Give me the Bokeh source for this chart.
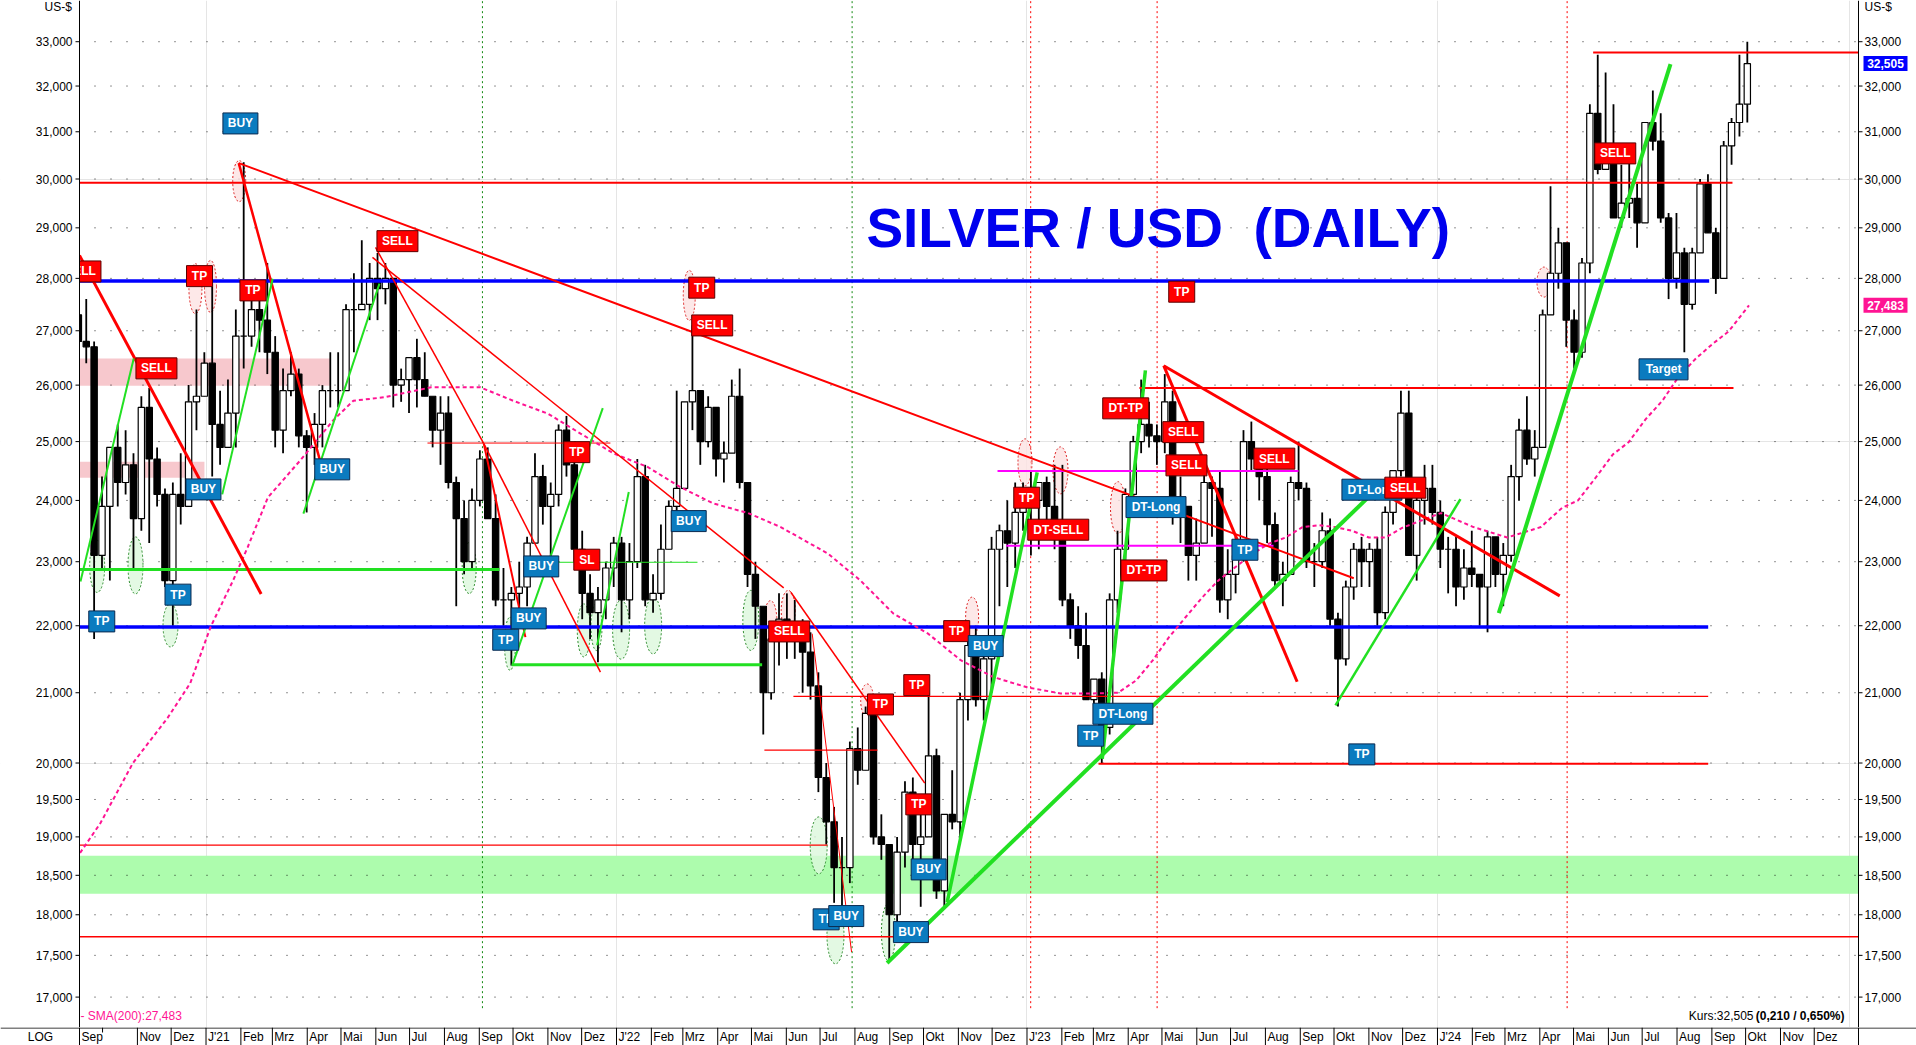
import pandas as pd
from bokeh.plotting import figure
from bokeh.layouts import column
from bokeh.models import Range1d, Label, LogScale
from bokeh.core.properties import value
from bokeh.embed import file_html
from bokeh.resources import INLINE

# ------------------------------------------------------------------ data
# weekly bars (US-$), first Monday of each year block
YEAR_FIRST_MONDAY = ["2020-09-07", "2021-01-04", "2022-01-03", "2023-01-02", "2024-01-01"]
FIRST_OPEN = 27.3

HIGH_2020 = [27.9, 27.6, 26.8, 24.4, 24.9, 25.3, 25.2, 24.8, 25.8, 25.95, 24.9, 24.2, 24.3, 24.8, 26.0, 27.4, 26.6]
LOW_2020 = [26.6, 26.4, 21.8, 22.9, 22.7, 23.9, 24.1, 22.9, 23.5, 23.3, 23.9, 22.6, 22.0, 23.6, 23.9, 25.2, 25.8]
CLOSE_2020 = [26.8, 26.7, 23.1, 23.9, 24.9, 24.3, 24.6, 23.7, 25.6, 24.7, 24.1, 22.7, 24.1, 23.9, 25.7, 25.8, 26.4]

HIGH_2021 = [27.9, 25.9, 26.1, 27.4, 30.35, 27.8, 27.9, 28.3, 26.9, 26.3, 26.6, 26.3, 25.2, 25.5, 26.0, 26.6, 26.6,
             27.5, 28.1, 28.75, 28.3, 28.5, 28.3, 28.0, 26.3, 26.5, 26.85, 26.6, 25.7, 25.8, 25.8, 24.4, 24.0, 24.2,
             24.85, 24.9, 24.1, 22.9, 22.6, 23.0, 23.4, 24.8, 24.6, 24.3, 25.3, 25.45, 24.9, 23.5, 22.8, 22.6, 23.0, 23.4]
LOW_2021 = [24.4, 24.6, 24.9, 24.9, 26.3, 26.7, 26.6, 26.2, 24.9, 24.8, 25.8, 24.9, 23.8, 24.6, 24.9, 25.6, 25.6,
            25.9, 26.6, 27.4, 27.2, 27.2, 27.5, 25.6, 25.7, 25.5, 25.6, 25.8, 24.9, 24.6, 24.2, 22.3, 22.8, 22.9,
            23.9, 23.7, 22.3, 22.0, 21.4, 22.2, 22.3, 23.3, 23.6, 23.0, 23.9, 24.4, 23.0, 22.1, 21.8, 21.45, 22.1, 22.6]
CLOSE_2021 = [25.3, 24.9, 25.5, 26.9, 26.9, 27.4, 27.2, 26.6, 25.2, 25.9, 26.2, 25.1, 24.9, 25.3, 25.9, 25.9, 25.9,
              27.4, 27.4, 27.5, 28.0, 27.8, 28.0, 26.0, 26.1, 26.5, 26.1, 25.8, 25.2, 25.5, 24.3, 23.7, 23.0, 24.0,
              24.7, 23.7, 22.4, 22.4, 22.5, 22.6, 23.3, 24.4, 23.9, 24.1, 25.2, 24.6, 23.2, 22.5, 22.2, 22.4, 22.9, 23.3]

HIGH_2022 = [23.4, 23.3, 24.7, 24.6, 22.8, 23.6, 24.0, 25.9, 25.6, 27.1, 25.8, 25.8, 25.6, 25.0, 26.1, 26.3, 24.2,
             23.0, 22.1, 22.0, 22.5, 22.5, 22.4, 22.1, 21.9, 21.3, 20.0, 19.4, 19.0, 20.3, 20.5, 20.8, 20.8, 19.3,
             18.9, 19.0, 19.75, 19.8, 19.3, 21.0, 20.2, 19.0, 19.9, 21.0, 21.9, 22.0, 21.7, 23.4, 23.6, 24.0, 24.3, 24.3]
LOW_2022 = [21.9, 22.1, 22.9, 22.3, 22.2, 22.4, 23.2, 23.6, 24.3, 25.2, 24.6, 24.9, 24.4, 24.3, 25.0, 24.2, 22.6,
            21.8, 20.4, 20.9, 21.4, 21.5, 21.5, 21.0, 20.9, 19.6, 18.9, 18.15, 18.0, 18.4, 19.7, 19.9, 18.9, 18.7,
            17.45, 17.8, 18.6, 18.7, 18.1, 19.0, 18.2, 18.1, 19.1, 18.9, 20.6, 20.8, 20.6, 21.0, 22.3, 22.6, 22.9, 23.5]
CLOSE_2022 = [22.4, 23.0, 24.4, 22.4, 22.5, 23.2, 23.9, 24.2, 25.7, 25.9, 25.0, 25.6, 24.7, 24.8, 25.8, 24.3, 22.8,
              22.3, 21.0, 21.8, 22.1, 21.9, 21.8, 21.6, 21.1, 19.8, 19.2, 18.6, 18.6, 20.2, 19.9, 20.7, 19.0, 18.9,
              18.0, 18.8, 19.6, 18.9, 19.0, 20.1, 18.3, 19.3, 19.2, 20.9, 21.7, 20.9, 21.5, 23.2, 23.5, 23.3, 23.8, 24.0]

HIGH_2023 = [24.5, 24.3, 24.4, 24.6, 24.6, 22.5, 22.3, 22.2, 21.2, 21.3, 22.5, 23.5, 24.2, 25.1, 26.1, 25.7, 25.3,
             26.2, 25.9, 24.4, 23.9, 23.7, 24.5, 24.4, 24.5, 23.2, 23.4, 25.2, 25.35, 24.8, 24.8, 23.8, 23.0, 24.4,
             25.0, 24.3, 23.3, 23.8, 23.7, 22.2, 22.7, 23.3, 23.4, 23.3, 23.4, 23.9, 24.5, 25.9, 25.9, 24.3, 24.6, 24.6]
LOW_2023 = [23.1, 23.2, 23.5, 23.2, 22.3, 21.8, 21.5, 20.9, 20.6, 20.0, 20.4, 22.2, 22.9, 23.9, 24.8, 24.9, 24.6,
            24.8, 23.6, 23.3, 22.7, 22.7, 23.3, 23.4, 22.2, 22.1, 22.5, 23.0, 24.5, 24.0, 23.3, 22.6, 22.3, 22.8,
            24.0, 22.9, 22.6, 22.9, 22.0, 20.8, 21.4, 22.4, 22.6, 22.6, 22.0, 22.1, 23.6, 24.4, 23.1, 22.7, 23.6, 23.6]
CLOSE_2023 = [24.0, 24.3, 23.9, 23.6, 22.4, 22.0, 21.7, 20.9, 21.2, 20.5, 22.4, 23.2, 24.1, 25.0, 25.3, 25.1, 25.0,
              25.7, 23.8, 23.9, 23.1, 23.3, 24.3, 24.2, 22.4, 22.8, 23.1, 25.0, 24.7, 24.4, 23.6, 22.7, 22.8, 24.3,
              24.2, 23.0, 23.0, 23.5, 22.1, 21.5, 22.6, 23.2, 23.0, 23.2, 22.2, 23.8, 24.5, 25.5, 23.1, 24.0, 24.2, 23.8]

HIGH_2024 = [24.0, 23.4, 23.4, 23.2, 23.5, 22.8, 23.5, 23.3, 23.3, 24.6, 25.4, 25.8, 25.2, 27.4, 29.85, 29.0, 28.6,
             27.4, 28.4, 31.6, 32.7, 32.3, 31.6, 30.3, 30.4, 29.9, 31.2, 31.9, 31.4, 29.3, 29.3, 28.6, 28.6, 30.0,
             30.1, 29.0, 30.8, 31.3, 32.7, 33.0]
LOW_2024 = [22.9, 22.5, 22.3, 22.4, 22.6, 22.0, 21.9, 22.6, 22.3, 23.0, 24.0, 24.6, 24.4, 25.0, 27.3, 27.8, 26.7,
            26.3, 26.5, 28.1, 30.1, 30.2, 29.2, 29.0, 29.2, 28.6, 29.2, 30.6, 29.1, 27.6, 27.8, 26.6, 27.4, 28.5,
            28.9, 27.7, 28.0, 30.3, 30.9, 31.2]
CLOSE_2024 = [23.2, 23.2, 22.6, 22.9, 22.8, 22.6, 23.4, 22.8, 23.1, 24.4, 25.2, 24.7, 24.9, 27.3, 28.1, 28.7, 27.2,
              26.6, 28.3, 31.4, 30.2, 30.4, 29.2, 29.5, 29.6, 29.1, 31.2, 30.8, 29.2, 28.0, 28.5, 27.5, 28.5, 29.9,
              28.9, 28.0, 30.7, 31.2, 31.6, 32.5]

HIGHS = [HIGH_2020, HIGH_2021, HIGH_2022, HIGH_2023, HIGH_2024]
LOWS = [LOW_2020, LOW_2021, LOW_2022, LOW_2023, LOW_2024]
CLOSES = [CLOSE_2020, CLOSE_2021, CLOSE_2022, CLOSE_2023, CLOSE_2024]

# 200-day moving average
SMA_DATES = ["2020-09-11", "2020-09-29", "2020-10-28", "2020-11-28", "2020-12-18", "2021-01-05", "2021-01-25",
             "2021-02-07", "2021-02-25", "2021-03-26", "2021-04-24", "2021-05-12", "2021-06-08", "2021-07-20",
             "2021-09-02", "2021-10-01", "2021-11-01", "2021-11-30", "2021-12-29", "2022-01-29", "2022-02-27",
             "2022-03-28", "2022-04-28", "2022-05-27", "2022-07-08", "2022-08-06", "2022-09-04", "2022-10-05",
             "2022-11-03", "2022-12-02", "2023-01-01", "2023-01-31", "2023-03-01", "2023-03-23", "2023-04-08",
             "2023-04-23", "2023-05-07", "2023-05-22", "2023-06-06", "2023-06-20", "2023-07-05", "2023-07-21",
             "2023-08-04", "2023-08-19", "2023-09-03", "2023-09-17", "2023-10-02", "2023-10-17", "2023-11-01",
             "2023-11-16", "2023-12-01", "2024-01-04", "2024-02-02", "2024-03-03", "2024-04-02", "2024-04-21",
             "2024-05-05", "2024-05-21", "2024-06-05", "2024-06-19", "2024-07-04", "2024-07-19", "2024-08-02",
             "2024-08-18", "2024-09-02", "2024-09-16", "2024-10-04"]
SMA_VALUES = [18.79, 19.18, 20.00, 20.64, 21.14, 21.98, 22.70, 23.23, 24.05, 24.68, 25.37, 25.72, 25.78, 25.96,
              25.96, 25.72, 25.49, 25.14, 24.80, 24.56, 24.22, 23.95, 23.79, 23.56, 23.13, 22.70, 22.19, 21.88,
              21.48, 21.23, 21.08, 20.99, 20.99, 21.00, 21.18, 21.48, 21.82, 22.13, 22.44, 22.70, 22.91, 23.13,
              23.29, 23.39, 23.56, 23.59, 23.56, 23.50, 23.39, 23.39, 23.55, 23.79, 23.56, 23.39, 23.56, 23.88,
              24.00, 24.39, 24.78, 24.99, 25.39, 25.72, 26.14, 26.49, 26.76, 26.99, 27.48]

# horizontal support / resistance levels
LEVEL_PRICE = [29.92, 27.95, 21.98, 18.893, 17.728, 32.755, 25.95, 20.946, 19.99, 20.18, 24.975,
               22.876, 21.411, 22.991, 24.494, 23.256]
LEVEL_FROM = ["2020-09-01", "2020-09-01", "2020-09-01", "2020-09-01", "2020-09-01", "2024-05-18 10:00",
              "2023-04-11", "2022-06-07 07:00", "2023-03-05 14:00", "2022-05-12 12:00", "2021-07-16 22:00",
              "2020-09-01", "2021-09-30 05:00", "2021-11-10 10:00", "2022-12-05 19:00", "2022-12-13 12:00"]
LEVEL_TO = ["2024-09-19 07:00", "2024-08-29 14:00", "2024-08-28 17:00", "2022-07-07 14:00", "2025-02-01",
            "2025-02-01", "2024-09-20 05:00", "2024-08-28 17:00", "2024-08-28 17:00", "2022-08-21",
            "2021-12-26 14:00", "2021-09-18 22:00", "2022-05-10 12:00", "2022-03-14", "2023-08-30 10:00",
            "2023-08-08 05:00"]
LEVEL_KIND = ["red", "blue", "blue", "red", "red", "red", "red", "red", "red", "red", "red",
              "green", "green", "green", "magenta", "magenta"]

# shaded zones
ZONE_BOTTOM = [18.266, 25.988, 24.381]
ZONE_TOP = [18.754, 26.485, 24.654]
ZONE_FROM = ["2020-09-01", "2020-09-01", "2020-09-01"]
ZONE_TO = ["2025-02-01", "2021-04-21 14:00", "2020-12-30 14:00"]
ZONE_KIND = ["green", "pink", "pink"]

# trend lines
TREND_X0 = ["2021-01-30 02:00", "2021-01-30 02:00", "2020-09-10 12:00", "2021-05-31 17:00", "2021-09-05",
            "2021-09-05", "2021-05-29", "2022-06-05", "2022-06-24", "2023-05-02 14:00", "2023-05-02 14:00",
            "2020-09-11 09:00", "2021-01-15 10:00", "2021-03-28 14:00", "2021-09-30 05:00", "2021-12-14 19:00",
            "2022-08-29 14:00", "2022-10-22", "2023-03-08 22:00", "2023-10-02 07:00", "2024-02-24 12:00"]
TREND_Y0 = [30.333, 30.333, 28.45, 28.608, 24.964, 24.964, 28.41, 22.518, 21.879, 26.353, 26.353,
            22.686, 24.101, 23.78, 21.40, 21.703, 17.407, 18.155, 20.06, 20.816, 22.192]
TREND_X1 = ["2023-10-18 14:00", "2021-04-12 19:00", "2021-02-19", "2021-09-05", "2021-12-17 17:00",
            "2021-10-12", "2022-05-29 17:00", "2022-10-02 02:00", "2022-07-29", "2023-08-29 05:00",
            "2024-04-18 17:00", "2020-10-28 17:00", "2021-03-01 07:00", "2021-06-04 05:00", "2021-12-19 19:00",
            "2022-01-11 22:00", "2023-11-14 05:00", "2023-01-10 02:00", "2023-04-16 07:00", "2024-01-21 10:00",
            "2024-07-26 05:00"]
TREND_Y1 = [22.738, 24.641, 22.49, 24.964, 21.303, 21.827, 22.585, 19.722, 17.54, 21.161, 22.461,
            26.486, 27.994, 27.898, 25.589, 24.14, 24.303, 24.472, 26.267, 24.022, 32.49]
TREND_KIND = ["red"] * 11 + ["green"] * 10

# vertical marker dates
VLINE_DATES = ["2021-09-03 19:00", "2022-07-29 12:00", "2023-01-04 07:00", "2023-04-26 17:00", "2024-04-25 07:00"]
VLINE_KIND = ["green", "green", "red", "red", "red"]

# circled highs (red) and lows (green)
OVAL_DATES = ["2021-01-30 12:00", "2020-12-22 14:00", "2021-01-05", "2022-03-06 17:00", "2022-05-17 22:00",
              "2022-06-02 17:00", "2022-08-11 22:00", "2022-11-13 05:00", "2022-12-30 05:00", "2023-01-30 19:00",
              "2023-03-22 22:00", "2024-04-04 17:00",
              "2020-09-26 05:00", "2020-10-30 07:00", "2020-11-30 10:00", "2021-08-23", "2021-09-28 07:00",
              "2021-12-02 22:00", "2021-12-14 05:00", "2022-01-05 02:00", "2022-02-02 14:00", "2022-04-30 10:00",
              "2022-06-29 19:00", "2022-07-14 17:00", "2022-08-30 19:00"]
OVAL_PRICES = [29.956, 27.80, 27.844, 27.671, 22.055, 22.235, 20.888, 22.132, 24.643, 24.506, 23.879, 27.928,
               22.925, 22.941, 22.005, 22.899, 21.727, 21.929, 21.98, 21.94, 22.006, 22.082, 18.888, 17.745, 17.785]
OVAL_KIND = ["red"] * 12 + ["green"] * 13

# signal tags
TAG_DATES = ["2020-09-11 08:40", "2020-12-26 05:00", "2021-02-11 17:00", "2020-11-17 22:00", "2021-01-31 14:00",
             "2020-12-29 17:00", "2021-04-23 05:00", "2020-12-07 02:00", "2020-09-30 07:00", "2021-06-20 05:00",
             "2022-03-17 19:00", "2022-03-27 02:00", "2021-11-26 17:00", "2021-12-05 14:00", "2021-10-26 02:00",
             "2021-10-14 22:00", "2021-09-24 12:00", "2022-03-06 05:00", "2022-06-03 14:00", "2022-08-23 17:00",
             "2022-09-25", "2022-09-26 19:00", "2022-10-30 12:00", "2022-11-25 07:00", "2022-10-05 14:00",
             "2022-09-19 19:00", "2022-07-06 10:00", "2022-07-24 07:00", "2022-12-31 19:00", "2023-01-28 19:00",
             "2023-03-29 19:00", "2023-04-25 17:00", "2023-04-15", "2023-03-27 07:00", "2023-02-26 17:00",
             "2023-05-18 14:00", "2023-05-20", "2023-05-22 19:00", "2023-08-08 22:00", "2023-07-13 19:00",
             "2023-11-03 17:00", "2023-12-03 10:00", "2023-10-25 17:00", "2024-06-07 02:00", "2024-07-20"]
TAG_PRICES = [28.135, 28.044, 27.767, 26.304, 31.18, 24.184, 24.523, 22.48, 22.066, 28.733, 27.82, 27.1, 24.818,
              23.032, 22.925, 22.112, 21.787, 23.658, 21.913, 20.83, 21.111, 19.434, 21.918, 21.692, 18.576,
              17.785, 17.943, 17.984, 24.045, 23.517, 25.584, 23.889, 22.861, 20.696, 20.383, 27.742, 25.165,
              24.591, 24.706, 23.192, 24.179, 24.213, 20.12, 30.538, 26.286]
TAG_TEXT = ["SELL", "TP", "TP", "SELL", "BUY", "BUY", "BUY", "TP", "TP", "SELL", "TP", "SELL", "TP", "SL", "BUY",
            "BUY", "TP", "BUY", "SELL", "TP", "TP", "TP", "TP", "BUY", "BUY", "BUY", "TP", "BUY", "TP", "DT-SELL",
            "DT-TP", "DT-Long", "DT-TP", "DT-Long", "TP", "TP", "SELL", "SELL", "SELL", "TP", "DT-Long", "SELL",
            "TP", "SELL", "Target"]
TAG_KIND = ["red", "red", "red", "red", "blue", "blue", "blue", "blue", "blue", "red", "red", "red", "red", "red",
            "blue", "blue", "blue", "blue", "red", "red", "red", "red", "red", "blue", "blue", "blue", "blue", "blue",
            "red", "red", "red", "blue", "red", "blue", "blue", "red", "red", "red", "red", "blue", "blue", "red",
            "blue", "red", "blue"]

TITLE_TEXT = "SILVER / USD\u00a0\u00a0(DAILY)"
TITLE_DATE = "2022-08-11 05:00"
TITLE_PRICE = 29.0

LAST_PRICE = 32.505
LAST_SMA = 27.483
CHANGE_TEXT = "(0,210 / 0,650%)"
Y_TICKS = [17, 17.5, 18, 18.5, 19, 19.5, 20, 21, 22, 23, 24, 25, 26, 27, 28, 29, 30, 31, 32, 33]
MONTH_NAMES = ["J", "Feb", "Mrz", "Apr", "Mai", "Jun", "Jul", "Aug", "Sep", "Okt", "Nov", "Dez"]

# ------------------------------------------------------------------ style
COL = {"red": "#ff0000", "blue": "#0000ff", "green": "#22e022", "magenta": "#ff00ff"}
LEVEL_WIDTH = [2, 3.5, 3.5, 1.2, 1.5, 2, 2, 1.2, 2, 1.2, 1, 3, 3, 1, 2, 2]
TREND_WIDTH = [2, 2.5, 3, 1.5, 1.5, 2, 1.5, 1.5, 1, 3, 3, 2, 2, 2, 2, 2, 4, 3.5, 3.5, 2.5, 4]
OVAL_W = [13, 13, 12, 12, 13, 14, 13, 13, 14, 15, 15, 14, 15, 15, 15, 14, 11, 13, 11, 17, 17, 16, 17, 17, 14]
OVAL_H = [41, 50, 52, 50, 43, 40, 33, 40, 47, 47, 52, 30, 52, 57, 43, 51, 53, 53, 47, 59, 57, 60, 57, 57, 57]
ZONE_COL = {"green": "#adfcad", "pink": "#f7c8cd"}
VLINE_COL = {"green": "#138a13", "red": "#ff0000"}
TAG_FILL = {"red": "#ff0000", "blue": "#0b7bbf"}
TAG_LINE = {"red": "#5a0000", "blue": "#0a2a50"}
TAG_W = {"TP": 26, "SL": 26, "BUY": 35, "SELL": 41, "DT-TP": 46, "DT-SELL": 61, "DT-Long": 60, "Target": 49}
FONT = "Liberation Sans"

# layout: 1.12462 px per calendar day, plot area from x=79 to x=1858
PPD = 1.12462


def px(n):
    return pd.Timedelta(days=n / PPD)


def T(v):
    return pd.to_datetime(v, format="mixed")


X_START = pd.Timestamp("2020-09-10 12:00")
X_END = X_START + px(1779)
XR0 = X_START - px(79)
XR1 = XR0 + px(1916)
Y_BOTTOM, Y_TOP = 16.645, 33.958
W, H, STRIP_H = 1916, 1027, 18

# ------------------------------------------------------------------ main figure
p = figure(x_axis_type="datetime", y_axis_type="log",
           x_range=Range1d(XR0, XR1), y_range=Range1d(Y_BOTTOM, Y_TOP),
           frame_width=W, frame_height=H, min_border=0,
           x_axis_location=None, y_axis_location=None, toolbar_location=None, output_backend="svg")
p.y_scale = LogScale()
p.outline_line_color = None
p.background_fill_color = "white"
p.border_fill_color = "white"

# zones
p.quad(left=T(ZONE_FROM), right=T(ZONE_TO), bottom=ZONE_BOTTOM, top=ZONE_TOP,
       fill_color=[ZONE_COL[k] for k in ZONE_KIND], line_color=None)

# dotted grid rows
p.segment(x0=[X_START] * len(Y_TICKS), y0=Y_TICKS, x1=[X_END] * len(Y_TICKS), y1=Y_TICKS,
          line_color="#000000", line_alpha=0.85, line_width=1, line_dash="1 15", line_dash_offset=1)

# vertical markers
p.segment(x0=T(VLINE_DATES), y0=[16.87] * len(VLINE_DATES), x1=T(VLINE_DATES), y1=[Y_TOP + 1] * len(VLINE_DATES),
          line_color=[VLINE_COL[k] for k in VLINE_KIND], line_width=1, line_dash="2 3")

# ovals
p.ellipse(x=T(OVAL_DATES), y=OVAL_PRICES, width=OVAL_W, height=OVAL_H,
          width_units="screen", height_units="screen",
          fill_color=["#fde2e2" if k == "red" else "#dcf7dc" for k in OVAL_KIND], fill_alpha=0.8,
          line_color=["#dd2222" if k == "red" else "#2a8a2a" for k in OVAL_KIND], line_width=1, line_dash="2 2")

# weekly bars
dates, highs, lows, closes = [], [], [], []
for first, h, l, c in zip(YEAR_FIRST_MONDAY, HIGHS, LOWS, CLOSES):
    assert len(h) == len(l) == len(c)
    dates += list(pd.date_range(first, periods=len(h), freq="7D"))
    highs += h
    lows += l
    closes += c
opens = [FIRST_OPEN] + closes[:-1]
mids = [d + pd.Timedelta(hours=60) for d in dates]
p.segment(x0=mids, y0=lows, x1=mids, y1=highs, line_color="black", line_width=1.8)
p.vbar(x=mids, width=5.6 * 86400000,
       bottom=[min(o, c) for o, c in zip(opens, closes)], top=[max(o, c) for o, c in zip(opens, closes)],
       fill_color=["white" if c >= o else "black" for o, c in zip(opens, closes)], line_color="black",
       line_width=1.2)

# levels
p.segment(x0=T(LEVEL_FROM), y0=LEVEL_PRICE, x1=T(LEVEL_TO), y1=LEVEL_PRICE,
          line_color=[COL[k] for k in LEVEL_KIND], line_width=LEVEL_WIDTH)

# SMA 200
p.line(x=T(SMA_DATES), y=SMA_VALUES, line_color="#ff1493", line_width=2, line_dash="4 3")

# trend lines
p.segment(x0=T(TREND_X0), y0=TREND_Y0, x1=T(TREND_X1), y1=TREND_Y1,
          line_color=[COL[k] for k in TREND_KIND], line_width=TREND_WIDTH)

# title
p.text(x=[T(TITLE_DATE)], y=[TITLE_PRICE], text=[TITLE_TEXT], text_align="left", text_baseline="middle",
       text_font=value(FONT), text_font_style="bold", text_font_size="55px", text_color="#0000ee")

# tags
for d, pr, tx, k in zip(TAG_DATES, TAG_PRICES, TAG_TEXT, TAG_KIND):
    p.rect(x=[T(d)], y=[pr], width=TAG_W[tx], height=21, width_units="screen", height_units="screen",
           fill_color=TAG_FILL[k], line_color=TAG_LINE[k], line_width=1)
    p.text(x=[T(d)], y=[pr], text=[tx], text_align="center", text_baseline="middle",
           text_font=value(FONT), text_font_style="bold", text_font_size="12px", text_color="white")

# mask the axis margins (the plot area ends at the two axis lines)
p.quad(left=[XR0 - px(20), X_END], right=[X_START, XR1 + px(20)], bottom=[16.0, 16.0], top=[35.0, 35.0],
       fill_color="white", line_color=None)

# axis lines, ticks and tick labels
p.segment(x0=[X_START, X_END], y0=[Y_BOTTOM, Y_BOTTOM], x1=[X_START, X_END], y1=[Y_TOP, Y_TOP],
          line_color="black", line_width=1)
n = len(Y_TICKS)
p.segment(x0=[X_START - px(4)] * n, y0=Y_TICKS, x1=[X_START] * n, y1=Y_TICKS, line_color="black", line_width=1)
p.segment(x0=[X_END] * n, y0=Y_TICKS, x1=[X_END + px(4)] * n, y1=Y_TICKS, line_color="black", line_width=1)
tick_labels = [f"{t:.3f}".replace(".", ",") for t in Y_TICKS]
p.text(x=[X_START] * n, y=Y_TICKS, text=tick_labels, x_offset=-7, text_align="right", text_baseline="middle",
       text_font=value(FONT), text_font_size="12px", text_color="black")
p.text(x=[X_END] * n, y=Y_TICKS, text=tick_labels, x_offset=6, text_align="left", text_baseline="middle",
       text_font=value(FONT), text_font_size="12px", text_color="black")
p.text(x=[X_START, X_END], y=[Y_TOP, Y_TOP], text=["US-$", "US-$"], x_offset=[-35, 6], y_offset=[-1, -1],
       text_align="left", text_baseline="top", text_font=value(FONT), text_font_size="12px", text_color="black")

# value boxes on the right axis
box_x = [X_END + px(27)] * 2
p.rect(x=box_x, y=[LAST_PRICE, LAST_SMA], width=44, height=15, width_units="screen", height_units="screen",
       fill_color=["#0000ff", "#ff1493"], line_color=None)
p.text(x=box_x, y=[LAST_PRICE, LAST_SMA],
       text=[f"{LAST_PRICE:.3f}".replace(".", ","), f"{LAST_SMA:.3f}".replace(".", ",")],
       text_align="center", text_baseline="middle", text_font=value(FONT), text_font_style="bold",
       text_font_size="12px", text_color="white")

# footer texts
p.add_layout(Label(x=80, y=5, x_units="screen", y_units="screen",
                   text=f"- SMA(200):{LAST_SMA:.3f}".replace(".", ","), text_font=FONT,
                   text_font_size="12px", text_color="#ff1493", text_baseline="bottom"))
p.add_layout(Label(x=1753, y=5, x_units="screen", y_units="screen",
                   text=f"Kurs:{LAST_PRICE:.3f}".replace(".", ","), text_font=FONT,
                   text_font_size="12px", text_color="#000000", text_baseline="bottom", text_align="right"))
p.add_layout(Label(x=1844, y=5, x_units="screen", y_units="screen", text=CHANGE_TEXT, text_font=FONT,
                   text_font_size="12px", text_font_style="bold", text_color="#000000", text_baseline="bottom",
                   text_align="right"))

# ------------------------------------------------------------------ month strip
s = figure(x_axis_type="datetime", x_range=p.x_range, y_range=Range1d(0, STRIP_H),
           frame_width=W, frame_height=STRIP_H, min_border=0,
           x_axis_location=None, y_axis_location=None, toolbar_location=None, output_backend="svg")
s.outline_line_color = None
s.xgrid.visible = False
s.ygrid.visible = False
s.background_fill_color = "white"

months = list(pd.date_range("2020-11-01", "2024-12-01", freq="MS"))
seps = [X_START] + months + [X_END]
s.segment(x0=[XR0], y0=[STRIP_H - 0.5], x1=[XR1], y1=[STRIP_H - 0.5], line_color="black", line_width=1)
s.segment(x0=seps, y0=[0] * len(seps), x1=seps, y1=[STRIP_H] * len(seps), line_color="black", line_width=1)
s.segment(x0=[pd.Timestamp("2020-10-01")], y0=[STRIP_H - 5], x1=[pd.Timestamp("2020-10-01")], y1=[STRIP_H],
          line_color="black", line_width=1)
labels = ["Sep"] + [f"J'{d.year % 100:02d}" if d.month == 1 else MONTH_NAMES[d.month - 1] for d in months]
s.text(x=[X_START] + months, y=[8.5] * len(labels), text=labels, x_offset=2, text_align="left",
       text_baseline="middle", text_font=value(FONT), text_font_size="12px", text_color="black")
s.text(x=[X_START], y=[8.5], text=["LOG"], x_offset=-39, text_align="center", text_baseline="middle",
       text_font=value(FONT), text_font_size="12px", text_color="black")

layout = column(p, s, spacing=0)
open("out.html", "w").write(file_html(layout, INLINE))
